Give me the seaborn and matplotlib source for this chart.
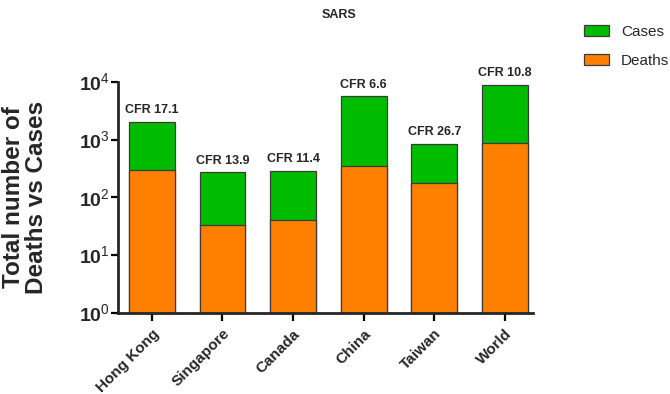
import matplotlib
matplotlib.use("Agg")
from matplotlib import pyplot as plt
import pandas as pd
import numpy as np
import seaborn as sns

sns.set_style("ticks")
plt.rcParams["font.family"] = ["Liberation Sans", "DejaVu Sans"]
plt.rcParams["mathtext.fontset"] = "custom"
plt.rcParams["mathtext.rm"] = "Liberation Sans"
plt.rcParams["mathtext.bf"] = "Liberation Sans:bold"

countries = ["Hong Kong", "Singapore", "Canada", "China", "Taiwan", "World"]
cases = [1755, 238, 247, 5327, 665, 8150]
deaths = [299, 33, 40, 349, 180, 880]
cfr = ["17.1", "13.9", "11.4", "6.6", "26.7", "10.8"]

df = pd.DataFrame({"country": countries, "cases": cases, "deaths": deaths})
df["total"] = df["cases"] + df["deaths"]

green = "#00BC00"
orange = "#FF8000"
edge = "#3a3a3a"

fig = plt.figure(figsize=(6.7, 3.94), dpi=100)
ax = fig.add_axes([0.176, 0.206, 0.62, 0.586])

sns.barplot(data=df, x="country", y="total", color=green, width=0.65,
            edgecolor=edge, linewidth=0.9, saturation=1, ax=ax, label="Cases")
sns.barplot(data=df, x="country", y="deaths", color=orange, width=0.65,
            edgecolor=edge, linewidth=0.9, saturation=1, ax=ax, label="Deaths")

ax.set_yscale("log")
ax.set_ylim(1, 1e4)
ax.set_xlim(-0.48, 5.4)
ax.set_yticks([1, 10, 100, 1000, 10000])
ax.set_yticklabels([r"$\mathbf{10}^{%d}$" % i for i in range(5)], fontsize=14)
ax.minorticks_off()
ax.set_xticks(range(len(countries)))
ax.set_xticklabels(countries, rotation=45, ha="right", rotation_mode="anchor",
                   fontsize=11, fontweight="bold")
ax.tick_params(axis="both", width=1.6, length=5, color="black")
ax.tick_params(axis="y", pad=1)
ax.tick_params(axis="x", pad=4, length=6)

for s in ["left", "bottom"]:
    ax.spines[s].set_linewidth(2)
sns.despine(ax=ax)

ax.set_xlabel("")
ax.set_ylabel("Total number of\nDeaths vs Cases", fontsize=17.5, fontweight="bold",
              labelpad=22, linespacing=1.0)

for i, (t, c) in enumerate(zip(df["total"], cfr)):
    ax.annotate("CFR " + c, (i, t), xytext=(0, 4), textcoords="offset points",
                ha="center", va="bottom", fontsize=9, fontweight="bold")

fig.text(0.506, 0.962, "SARS", ha="center", va="center", fontsize=9, fontweight="bold")

h, l = ax.get_legend_handles_labels()
leg = ax.legend(h, l, loc="upper left", bbox_to_anchor=(1.09, 1.307), frameon=False,
                fontsize=11, handlelength=1.6, handleheight=0.7, labelspacing=1.0)

fig.savefig("out.png", dpi=100)
